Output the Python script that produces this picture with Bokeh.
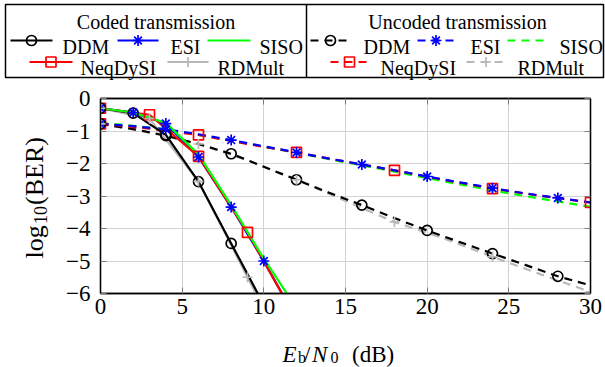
import numpy as np
from bokeh.plotting import figure
from bokeh.layouts import column, row
from bokeh.models import Range1d, FixedTicker, LinearAxis, CustomJSTickFormatter
from bokeh.core.properties import value
from bokeh.embed import file_html
from bokeh.resources import INLINE

# ---------------- data ----------------
x_ticks = [0, 5, 10, 15, 20, 25, 30]
x_tick_labels = ["0", "5", "10", "15", "20", "25", "30"]
y_ticks = [-6, -5, -4, -3, -2, -1, 0]
y_tick_labels = ["\u22126", "\u22125", "\u22124", "\u22123", "\u22122", "\u22121", "0"]

# coded transmission
coded_ddm_x = [0, 2, 4, 6, 8, 10]
coded_ddm_y = [-0.30, -0.45, -1.12, -2.56, -4.46, -6.35]
coded_esi_x = [0, 2, 4, 6, 8, 10, 12]
coded_esi_y = [-0.30, -0.43, -0.77, -1.80, -3.34, -5.00, -6.80]
coded_siso_x = [0, 2, 4, 6, 8, 10, 12]
coded_siso_y = [-0.30, -0.43, -0.75, -1.72, -3.28, -4.93, -6.45]
coded_neq_x = [0, 3, 6, 9, 12]
coded_neq_y = [-0.30, -0.50, -1.78, -4.12, -6.80]
coded_rdm_x = [0, 3, 6, 9, 12]
coded_rdm_y = [-0.30, -0.62, -2.55, -5.50, -8.40]

# uncoded transmission
unc_ddm_x = [0, 2, 4, 6, 8, 10, 12, 14, 16, 18, 20, 22, 24, 26, 28, 30]
unc_ddm_y = [-0.78, -0.94, -1.14, -1.40, -1.70, -2.10, -2.50, -2.90, -3.28, -3.68,
             -4.06, -4.42, -4.77, -5.12, -5.47, -5.75]
unc_esi_x = [0, 2, 4, 6, 8, 10, 12, 14, 16, 18, 20, 22, 24, 26, 28, 30]
unc_esi_y = [-0.78, -0.85, -0.95, -1.10, -1.28, -1.47, -1.66, -1.85, -2.03, -2.21,
             -2.40, -2.58, -2.76, -2.92, -3.06, -3.20]
unc_siso_x = [0, 2, 4, 6, 8, 10, 12, 14, 16, 18, 20, 22, 24, 26, 28, 30]
unc_siso_y = [-0.75, -0.84, -0.95, -1.12, -1.30, -1.48, -1.67, -1.87, -2.06, -2.25,
              -2.45, -2.64, -2.83, -3.00, -3.17, -3.33]
unc_neq_x = [0, 3, 6, 9, 12, 15, 18, 21, 24, 27, 30]
unc_neq_y = [-0.78, -0.93, -1.12, -1.40, -1.66, -1.94, -2.21, -2.50, -2.77, -3.00, -3.20]
unc_rdm_x = [0, 3, 6, 9, 12, 15, 18, 21, 24, 27, 30]
unc_rdm_y = [-0.78, -1.05, -1.40, -1.90, -2.50, -3.15, -3.80, -4.30, -4.87, -5.42, -5.95]

# ---------------- styles ----------------
FONT = "Liberation Serif"
DASH = "8 6"
LW = 2.2
colors = {"DDM": "#000000", "ESI": "#0000ff", "SISO": "#00ff00",
          "NeqDySI": "#ff0000", "RDMult": "#b8b8b8"}
markers = {"DDM": "circle", "ESI": "asterisk", "SISO": None,
           "NeqDySI": "square", "RDMult": "cross"}
msize = {"circle": 10, "asterisk": 11, "square": 10, "cross": 10}

series = [
    # (name, coded?, x, y, mark step)
    ("RDMult", False, unc_rdm_x, unc_rdm_y, 2),
    ("DDM", False, unc_ddm_x, unc_ddm_y, 2),
    ("SISO", False, unc_siso_x, unc_siso_y, 1),
    ("NeqDySI", False, unc_neq_x, unc_neq_y, 2),
    ("ESI", False, unc_esi_x, unc_esi_y, 2),
    ("RDMult", True, coded_rdm_x, coded_rdm_y, 1),
    ("DDM", True, coded_ddm_x, coded_ddm_y, 1),
    ("ESI", True, coded_esi_x, coded_esi_y, 1),
    ("NeqDySI", True, coded_neq_x, coded_neq_y, 1),
    ("SISO", True, coded_siso_x, coded_siso_y, 1),
]


def no_align(fig):
    try:
        fig.frame_align = False
    except Exception:
        pass


def blank_panel(w, h):
    f = figure(width=w, height=h, x_range=Range1d(0, w), y_range=Range1d(0, h),
               output_backend="svg", toolbar_location=None, min_border=0,
               x_axis_location=None, y_axis_location=None)
    no_align(f)
    f.grid.visible = False
    f.outline_line_color = None
    return f


def label_formatter(tick_values, labels):
    return CustomJSTickFormatter(
        args=dict(tvals=tick_values, labs=labels),
        code="const i = tvals.indexOf(tick); return i >= 0 ? labs[i] : '';")


# ---------------- main plot ----------------
p = figure(width=555, height=243, x_range=Range1d(0, 30), y_range=Range1d(-6, 0),
           output_backend="svg", toolbar_location=None,
           min_border_left=50, min_border_right=15, min_border_top=14, min_border_bottom=34)
no_align(p)
p.outline_line_color = "black"
p.outline_line_width = 1.3
p.xaxis.ticker = FixedTicker(ticks=x_ticks)
p.yaxis.ticker = FixedTicker(ticks=y_ticks)
p.xaxis.formatter = label_formatter(x_ticks, x_tick_labels)
p.yaxis.formatter = label_formatter(y_ticks, y_tick_labels)
for ax in (p.xaxis, p.yaxis):
    ax.major_tick_in = 6
    ax.major_tick_out = 0
    ax.minor_tick_line_color = None
    ax.major_tick_line_color = "#7a7a7a"
    ax.axis_line_color = "black"
    ax.axis_line_width = 1.3
    ax.major_label_text_font = FONT
    ax.major_label_text_font_size = "23px"
    ax.major_label_text_color = "black"
p.xaxis.major_label_standoff = 5
p.yaxis.major_label_standoff = 10
p.grid.grid_line_color = "#d2d2d2"
p.grid.grid_line_width = 1

for loc, ticks in (("above", x_ticks), ("right", y_ticks)):
    ax = LinearAxis(ticker=FixedTicker(ticks=ticks),
                    formatter=CustomJSTickFormatter(code="return '';"),
                    major_tick_in=6, major_tick_out=0, major_label_standoff=0,
                    minor_tick_line_color=None, major_tick_line_color="#7a7a7a",
                    axis_line_color="black", axis_line_width=1.3,
                    major_label_text_font_size="1px")
    p.add_layout(ax, loc)

for name, coded, xs, ys, step in series:
    p.line(xs, ys, line_color=colors[name], line_width=LW,
           line_dash="solid" if coded else DASH)

mark_order = ["NeqDySI", "DDM", "ESI", "RDMult"]
for mname in mark_order:
    for name, coded, xs, ys, step in series:
        if name != mname or markers[name] is None:
            continue
        m = markers[name]
        p.scatter(xs[::step], ys[::step], marker=m, size=msize[m],
                  line_color=colors[name], fill_color=None, line_width=1.7)

# ---------------- y-axis label panel: log10(BER) (rotated) ----------------
yl = blank_panel(50, 243)
yl_parts = [("log", 26, 33.5, 69), ("10", 18, 40, 103.5), ("(BER)", 26, 33.5, 122.5)]
for txt, fs, tx, ty in yl_parts:
    yl.text(x=[tx], y=[ty], text=[txt], angle=np.pi / 2, text_font=value(FONT),
            text_font_size=f"{fs}px", text_baseline="alphabetic", text_align="left",
            text_color="black")

# ---------------- x-axis label panel: E_b/N_0 (dB) ----------------
xl = blank_panel(605, 40)
xl_parts = [("E", "italic", 23, 282, 13.5), ("b", "normal", 16, 297.5, 10.5),
            ("/", "normal", 23, 303.5, 13.5), ("N", "italic", 23, 311.5, 13.5),
            ("0", "normal", 16, 330, 10.5), ("(dB)", "normal", 23, 351.5, 13.5)]
for txt, style, fs, tx, ty in xl_parts:
    xl.text(x=[tx], y=[ty], text=[txt], text_font=value(FONT), text_font_style=style,
            text_font_size=f"{fs}px", text_baseline="alphabetic", text_align="left",
            text_color="black")

# ---------------- legend ----------------
lg = blank_panel(605, 84)
H = 84
lg.quad(left=[5], right=[603], top=[H - 4], bottom=[H - 77], fill_color=None,
        line_color="black", line_width=1.5)
lg.segment(x0=[306], y0=[H - 4], x1=[306], y1=[H - 77], line_color="black", line_width=1.5)

lg.text(x=[155.5, 457], y=[H - 21.5, H - 21.5],
        text=["Coded transmission", "Uncoded transmission"],
        text_font=value(FONT), text_font_size="20px", text_align="center",
        text_baseline="alphabetic", text_color="black")

row_y = {1: H - 40, 2: H - 61.5}
row_base = {1: H - 46, 2: H - 67.5}
entries = [
    ("DDM", True, 1, 10, 52, 62), ("ESI", True, 1, 117, 158, 170),
    ("SISO", True, 1, 207, 250, 259), ("NeqDySI", True, 2, 29, 72, 80),
    ("RDMult", True, 2, 167, 208, 217),
    ("DDM", False, 1, 310, 350, 363), ("ESI", False, 1, 417, 454, 470),
    ("SISO", False, 1, 507, 545, 559), ("NeqDySI", False, 2, 330, 368, 380),
    ("RDMult", False, 2, 466, 505, 517),
]
for name, coded, r, lx0, lx1, tx in entries:
    yy = row_y[r]
    lg.line([lx0, lx1], [yy, yy], line_color=colors[name], line_width=LW,
            line_dash="solid" if coded else DASH)
    m = markers[name]
    if m is not None:
        lg.scatter([(lx0 + lx1) / 2], [yy], marker=m, size=msize[m],
                   line_color=colors[name], fill_color=None, line_width=1.7)
    lg.text(x=[tx], y=[row_base[r]], text=[name], text_font=value(FONT),
            text_font_size="20px", text_align="left", text_baseline="alphabetic",
            text_color="black")

layout = column(lg, row(yl, p, spacing=0), xl, spacing=0)
open("out.html", "w").write(file_html(layout, INLINE))
